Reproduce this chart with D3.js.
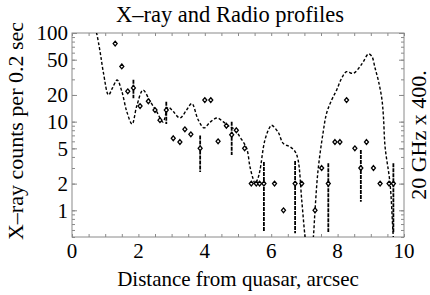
<!DOCTYPE html>
<html><head><meta charset="utf-8">
<script src="https://cdn.jsdelivr.net/npm/d3@7"></script>
<style>body{margin:0;background:#fff}svg{display:block}text{font-family:"Liberation Serif","DejaVu Serif",serif;fill:#000}</style>
</head><body><svg id="c" width="430" height="295"></svg>
<script>
const xTicks = [0, 2, 4, 6, 8, 10];
const yTicks = [1, 2, 5, 10, 20, 50, 100];
// radio profile (dashed curve): distance, value
const curveX = [0.65,0.74,0.85,0.95,1.1,1.22,1.36,1.5,1.65,1.81,1.95,2.14,2.35,2.56,2.74,2.9,3.05,3.25,3.45,3.61,3.8,3.98,4.15,4.37,4.55,4.76,4.9,5.06,5.26,5.36,5.45,5.52,5.6,5.66,5.81,5.96,6.01,6.21,6.36,6.57,6.72,6.81,6.92,7.02,7.1,7.2,7.27,7.32,7.41,7.56,7.67,7.82,7.97,8.12,8.27,8.47,8.67,8.77,8.93,9.03,9.13,9.23,9.33,9.38,9.43,9.58,9.67,9.72];
const curveY = [130,100,60,35,20,24,29.5,22,13,9.4,15,22.7,17,12.8,9.9,14.5,13,11,13.5,16,10.5,8.5,9.8,11,10,8.7,8.2,6.7,5.0,3.1,2.3,2.0,2.3,2.8,6.2,8.7,9.1,7.6,5.7,5.2,4.6,3.7,1.3,0.5,0.3,0.3,0.5,1.0,2.8,7.4,12.5,17.5,22.7,30.8,36.6,35,41.6,47,58,54.6,40,28.8,18.4,11.5,5.2,2.0,0.55,0.3];
// x-ray counts (diamonds)
const ptX = [1.30,1.50,1.68,2.05,2.30,2.50,2.65,3.05,3.25,3.40,3.58,4.00,4.18,4.40,4.65,4.95,5.20,5.40,5.55,5.65,6.10,6.37,6.92,7.32,7.52,7.92,8.07,8.27,8.52,8.87,9.08,9.28,9.55];
const ptY = [76,42,22,15,17,13.5,10.4,6.5,5.9,8.2,7.2,17.5,17.5,6.0,9.0,8.0,5.0,2.0,2.0,2.0,2.0,1.0,2.0,1.0,3.0,5.9,5.9,17.5,5.0,5.9,3.0,2.0,2.0];
// points with error bars
const errX = [1.85,2.84,3.86,4.81,5.78,6.72,7.72,8.70,9.68];
const errY = [24,13.5,5.0,7.1,2.0,2.0,2.0,3.0,2.0];
const errLo = [18.4,9.4,2.7,4.2,0.57,0.55,0.57,1.25,0.55];
const errHi = [29.6,16.8,7.0,10,3.5,3.6,3.4,4.8,3.4];

const svg = d3.select("#c");
const L = 72, R = 404, T = 33, B = 237;
const x = d3.scaleLinear().domain([0, 10]).range([L, R]);
const y = d3.scaleLog().domain([0.5, 100]).range([B, T]);
const grey = "#8a8a8a";

svg.append("defs").append("clipPath").attr("id","clip")
  .append("rect").attr("x",L).attr("y",T).attr("width",R-L).attr("height",B-T);

// frame
svg.append("rect").attr("x",L).attr("y",T).attr("width",R-L).attr("height",B-T)
  .attr("fill","none").attr("stroke",grey).attr("stroke-width",1);

// x ticks (inward, top and bottom)
const xt = d3.range(0, 10.01, 0.5);
const axB = d3.axisBottom(x).tickValues(xt).tickSize(-3).tickFormat("");
const axT = d3.axisTop(x).tickValues(xt).tickSize(-3).tickFormat("");
const gb = svg.append("g").attr("transform",`translate(0,${B})`).call(axB);
const gt = svg.append("g").attr("transform",`translate(0,${T})`).call(axT);
// y ticks
const yMinor = [];
[0.1,1,10].forEach(d => { for (let k=1;k<10;k++){ const v=k*d; if (v>=0.5 && v<=100) yMinor.push(v);} });
yMinor.push(100);
const gl = svg.append("g").attr("transform",`translate(${L},0)`)
  .call(d3.axisLeft(y).tickValues(yMinor).tickSize(-3).tickFormat(""));
const gr = svg.append("g").attr("transform",`translate(${R},0)`)
  .call(d3.axisRight(y).tickValues(yMinor).tickSize(-3).tickFormat(""));
const gl2 = svg.append("g").attr("transform",`translate(${L},0)`)
  .call(d3.axisLeft(y).tickValues(yTicks).tickSize(-5).tickFormat(""));
const gr2 = svg.append("g").attr("transform",`translate(${R},0)`)
  .call(d3.axisRight(y).tickValues(yTicks).tickSize(-5).tickFormat(""));
[gb,gt,gl,gr,gl2,gr2].forEach(g => { g.select(".domain").remove(); g.selectAll("line").attr("stroke",grey); });

// tick labels
svg.append("g").selectAll("text").data(xTicks).join("text")
  .attr("x", d => x(d)).attr("y", 258).attr("text-anchor","middle")
  .attr("font-size", 21).text(d => d);
svg.append("g").selectAll("text").data(yTicks).join("text")
  .attr("x", 68).attr("y", d => y(d)).attr("dy","0.35em").attr("text-anchor","end")
  .attr("font-size", 21).text(d => d);

// titles
svg.append("text").attr("x", 230).attr("y", 22).attr("text-anchor","middle")
  .attr("font-size", 22.5).text("X\u2013ray and Radio profiles");
svg.append("text").attr("x", 238).attr("y", 286).attr("text-anchor","middle")
  .attr("font-size", 21).text("Distance from quasar, arcsec");
svg.append("text").attr("transform","translate(23,131) rotate(-90)").attr("text-anchor","middle")
  .attr("font-size", 22).text("X\u2013ray counts per 0.2 sec");
svg.append("text").attr("transform","translate(426,135) rotate(-90)").attr("text-anchor","middle")
  .attr("font-size", 22).text("20 GHz x 400.");

const plot = svg.append("g").attr("clip-path","url(#clip)");
// curve
const curve = curveX.map((d,i) => [d, curveY[i]]);
plot.append("path").datum(curve)
  .attr("d", d3.line().x(d => x(d[0])).y(d => y(d[1])).curve(d3.curveCatmullRom))
  .attr("fill","none").attr("stroke","#000").attr("stroke-width",1.4).attr("stroke-dasharray","3,2");

// error bars
plot.append("g").selectAll("line").data(errX).join("line")
  .attr("x1", d => x(d)).attr("x2", d => x(d))
  .attr("y1", (d,i) => y(errHi[i])).attr("y2", (d,i) => y(errLo[i]))
  .attr("stroke","#000").attr("stroke-width",1.8).attr("stroke-dasharray","4,1");

// diamonds
const diamond = (cx, cy) => `M${cx},${cy-2.4}L${cx+2},${cy}L${cx},${cy+2.4}L${cx-2},${cy}Z`;
const pts = ptX.map((d,i)=>[d, ptY[i]]).concat(errX.map((d,i)=>[d, errY[i]]));
plot.append("g").selectAll("path").data(pts).join("path")
  .attr("d", d => diamond(x(d[0]), y(d[1])))
  .attr("fill","#fff").attr("stroke","#000").attr("stroke-width",1.3);
</script></body></html>
